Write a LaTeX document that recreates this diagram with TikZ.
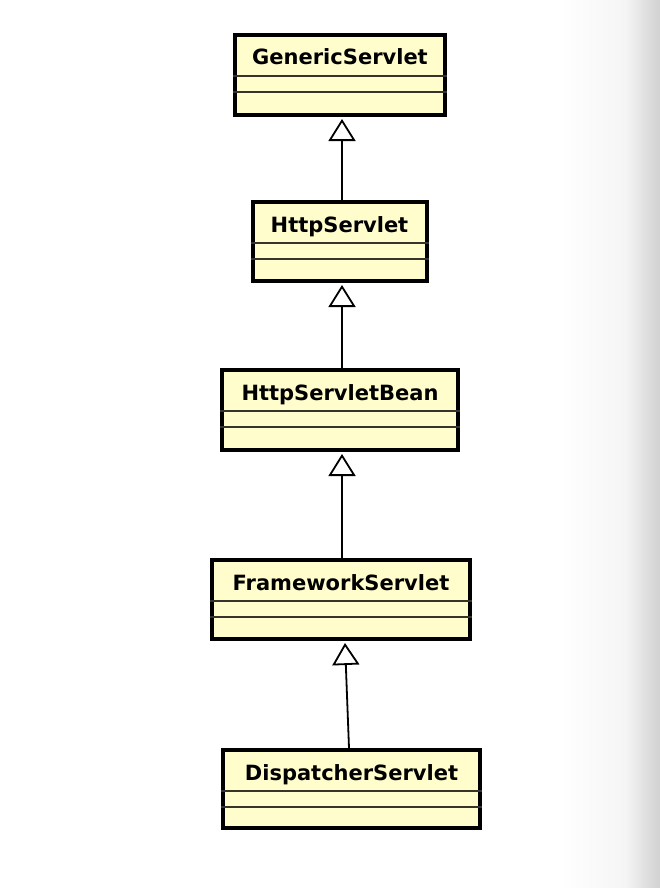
\documentclass[tikz,border=0pt]{standalone}
\usepackage{fontspec}
\setmainfont{DejaVu Sans}
\usetikzlibrary{arrows.meta}
\definecolor{umlfill}{HTML}{FFFDCB}
\definecolor{sepline}{HTML}{34342A}
\tikzset{
  umlclass/.style={draw=black, line width=4pt, fill=umlfill, rectangle, inner sep=0pt},
  sepline/.style={draw=sepline, line width=1.8pt},
  inh/.style={line width=1.8pt, -{Triangle[open, length=22pt, width=27pt, line width=1.8pt, fill=white]}},
  umltitle/.style={font=\fontsize{21}{24}\selectfont\bfseries, anchor=base, inner sep=0pt}
}
\newcommand\classbox[6]{%
  \node[umlclass, minimum width=#4pt, minimum height=#5pt] (#1) at (#2,#3) {};
  \draw[sepline] ([yshift=-43pt]#1.north west) -- ([yshift=-43pt]#1.north east);
  \draw[sepline] ([yshift=-59pt]#1.north west) -- ([yshift=-59pt]#1.north east);
  \node[umltitle] (#1t) at ([yshift=-32pt]#1.north) {#6};
}
\begin{document}
\begin{tikzpicture}[x=1pt, y=-1pt]
  \useasboundingbox (0,0) rectangle (660,888);
  \fill[white] (0,0) rectangle (660,888);
  \shade[left color=white, right color=black!4] (560,0) rectangle (625,888);
  \shade[left color=black!4, right color=black!18] (625,0) rectangle (660,888);

  \classbox{b1}{340}{75}{210}{80}{GenericServlet}
  \classbox{b2}{339.5}{241.5}{174}{79}{HttpServlet}
  \classbox{b3}{340}{410}{236}{80}{HttpServletBean}
  \classbox{b4}{341}{599.5}{258}{79}{FrameworkServlet}
  \classbox{b5}{351.5}{789}{257}{78}{DispatcherServlet}

  \draw[inh] (b2.north -| 342,0) -- ([yshift=-2pt]b1.south -| 342,0);
  \draw[inh] (b3.north -| 342,0) -- ([yshift=-2pt]b2.south -| 342,0);
  \draw[inh] (b4.north -| 342,0) -- ([yshift=-2pt]b3.south -| 342,0);
  \draw[inh] (b5.north -| 349,0) -- ([yshift=-2pt]b4.south -| 345,0);
\end{tikzpicture}
\end{document}
